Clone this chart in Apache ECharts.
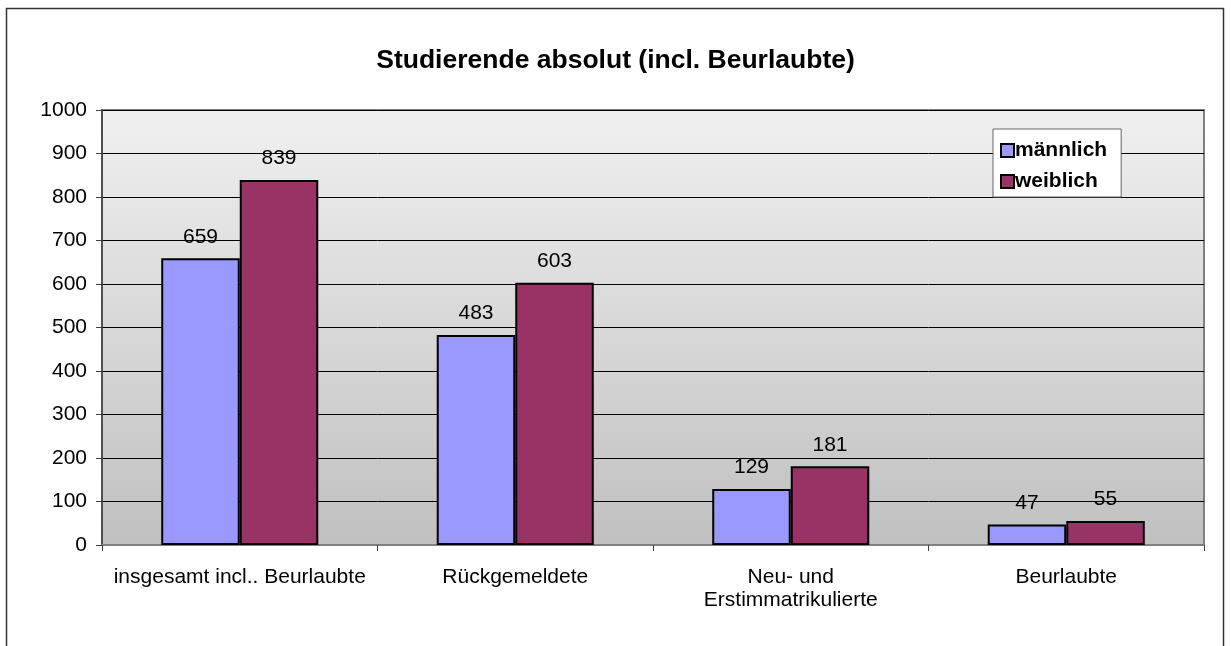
<!DOCTYPE html>
<html><head><meta charset="utf-8">
<script src="https://cdn.jsdelivr.net/npm/echarts@6/dist/echarts.min.js"></script>
<style>html,body{margin:0;padding:0;background:#fff}#c{width:1231px;height:646px}</style>
</head><body><div id="c"></div>
<script>
const categories = ['insgesamt incl.. Beurlaubte', 'Rückgemeldete', 'Neu- und\nErstimmatrikulierte', 'Beurlaubte'];
const maennlich = [659, 483, 129, 47];
const weiblich = [839, 603, 181, 55];
const seriesNames = ['männlich', 'weiblich'];
const titleText = 'Studierende absolut (incl. Beurlaubte)';

const chart = echarts.init(document.getElementById('c'));
const font = 'Arial, "Liberation Sans", sans-serif';
const lbl = {show: true, position: 'top', distance: 11, color: '#000', fontSize: 21, fontFamily: font};
chart.setOption({
  animation: false,
  title: {text: titleText, left: 'center', top: 42, textStyle: {fontSize: 26.5, fontWeight: 'bold', color: '#000', fontFamily: font}},
  graphic: [{type: 'rect', shape: {x: 6.5, y: 8.5, width: 1217, height: 700}, style: {fill: 'none', stroke: '#333', lineWidth: 1.5}, silent: true, z: -10}],
  legend: {
    data: seriesNames, orient: 'vertical', left: 993, top: 129, itemWidth: 13, itemHeight: 13, itemGap: 10,
    padding: [11, 14, 5, 7], backgroundColor: '#fff', borderColor: '#666', borderWidth: 1,
    textStyle: {fontSize: 21, fontWeight: 'bold', color: '#000', fontFamily: font, padding: [0, 0, 0, -4]},
    itemStyle: {borderColor: '#000', borderWidth: 2}, icon: 'rect'
  },
  grid: {
    left: 102, top: 110, right: 27, bottom: 101, show: true, borderColor: '#808080', borderWidth: 2,
    backgroundColor: {type: 'linear', x: 0, y: 0, x2: 0, y2: 1, colorStops: [{offset: 0, color: '#f0f0f0'}, {offset: 1, color: '#c0c0c0'}]}
  },
  xAxis: {
    type: 'category', data: categories,
    axisLine: {lineStyle: {color: '#808080', width: 2}},
    axisTick: {show: true, length: 6, interval: 0, lineStyle: {color: '#404040'}},
    axisLabel: {color: '#000', fontSize: 21, fontFamily: font, margin: 21, lineHeight: 23, interval: 0, hideOverlap: false}
  },
  yAxis: {
    type: 'value', min: 0, max: 1000, interval: 100,
    axisLine: {show: true, lineStyle: {color: '#404040', width: 1.5}},
    axisTick: {show: true, length: 6, lineStyle: {color: '#404040'}},
    axisLabel: {color: '#000', fontSize: 21, fontFamily: font, margin: 15, formatter: v => String(v)},
    splitLine: {lineStyle: {color: '#000', width: 1}}
  },
  series: [
    {name: seriesNames[0], type: 'bar', data: maennlich, barGap: '0%', barCategoryGap: '43%',
     itemStyle: {color: '#9999ff', borderColor: '#000', borderWidth: 2}, label: lbl},
    {name: seriesNames[1], type: 'bar', data: weiblich, barGap: '0%', barCategoryGap: '43%',
     itemStyle: {color: '#993366', borderColor: '#000', borderWidth: 2}, label: lbl}
  ]
});
</script></body></html>
